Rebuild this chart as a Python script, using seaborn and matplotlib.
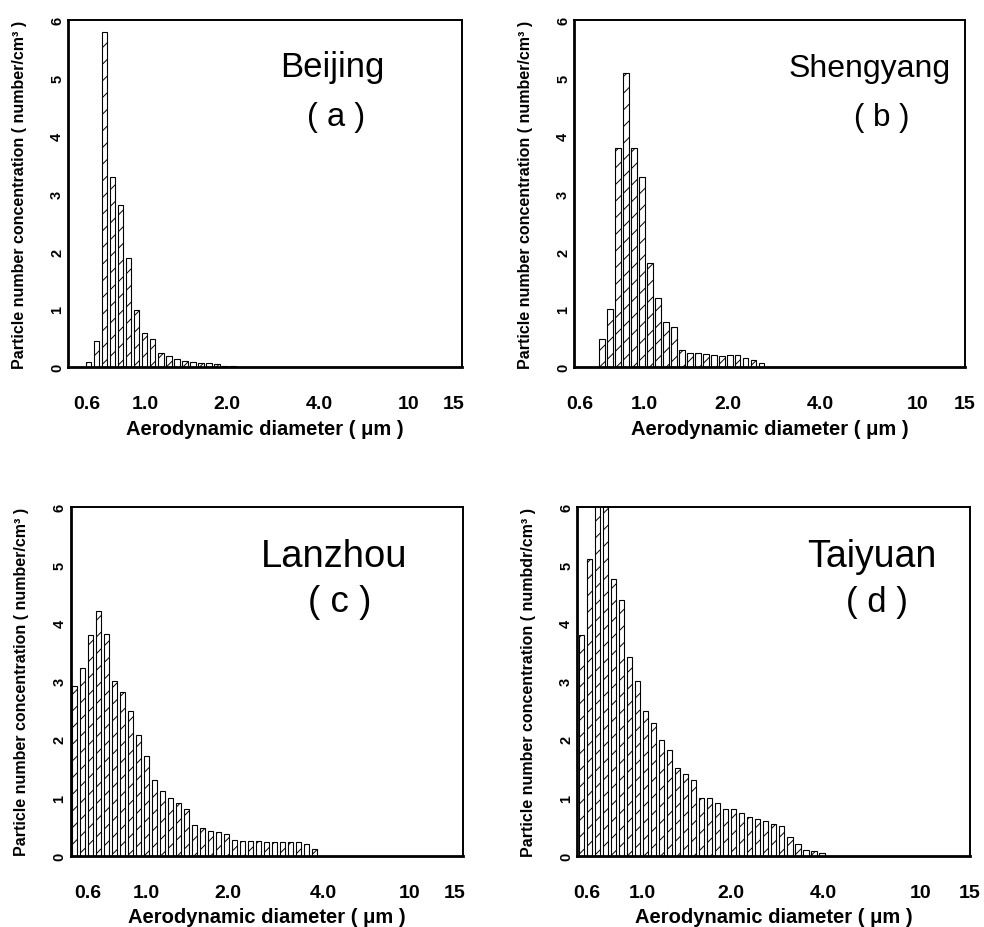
import matplotlib
matplotlib.use('Agg')
import matplotlib.pyplot as plt
import seaborn as sns
import pandas as pd

sns.set_theme(style='white')
plt.rcParams['font.family'] = ['Liberation Sans', 'DejaVu Sans']
plt.rcParams['hatch.linewidth'] = 0.7
plt.rcParams['hatch.color'] = 'black'
for key in ['text.color', 'axes.labelcolor', 'xtick.color', 'ytick.color', 'axes.edgecolor']:
    plt.rcParams[key] = 'black'

N_BINS = 49
tick_labels = ['0.6', '1.0', '2.0', '4.0', '10', '15']

cities = ['Beijing', 'Shengyang', 'Lanzhou', 'Taiyuan']
panel_tags = ['( a )', '( b )', '( c )', '( d )']
ylabels = [
    'Particle number concentration ( number/cm³ )',
    'Particle number concentration ( number/cm³ )',
    'Particle number concentration ( number/cm³ )',
    'Particle number concentration ( numbdr/cm³ )',
]
xlabel = 'Aerodynamic diameter ( μm )'

# first channel index holding data, then channel heights (number/cm3)
beijing_start = 2
beijing_vals = [0.10, 0.45, 5.80, 3.28, 2.80, 1.88, 0.99, 0.59, 0.49, 0.24,
                0.20, 0.14, 0.11, 0.10, 0.08, 0.07, 0.05, 0.03, 0.02, 0.01]
shengyang_start = 3
shengyang_vals = [0.49, 1.00, 3.79, 5.09, 3.79, 3.28, 1.81, 1.20, 0.79, 0.69,
                  0.30, 0.25, 0.25, 0.23, 0.21, 0.20, 0.21, 0.22, 0.16, 0.13, 0.07]
lanzhou_start = 0
lanzhou_vals = [2.92, 3.22, 3.79, 4.20, 3.81, 3.01, 2.81, 2.49, 2.08, 1.71,
                1.31, 1.11, 1.00, 0.91, 0.80, 0.52, 0.48, 0.43, 0.40, 0.38,
                0.27, 0.26, 0.26, 0.25, 0.23, 0.24, 0.24, 0.24, 0.23, 0.20, 0.11]
taiyuan_start = 0
taiyuan_vals = [3.79, 5.10, 6.30, 6.30, 4.76, 4.40, 3.41, 3.01, 2.48, 2.29,
                1.99, 1.81, 1.50, 1.40, 1.30, 1.00, 1.00, 0.90, 0.80, 0.80,
                0.74, 0.67, 0.64, 0.60, 0.55, 0.51, 0.32, 0.21, 0.10, 0.08, 0.04]

# tick label positions along the channel axis, per panel
ticks_a = [1.8, 9.1, 19.2, 30.7, 41.9, 47.4]
ticks_b = [0.2, 8.3, 18.75, 30.4, 42.5, 48.5]
ticks_c = [1.7, 9.0, 19.1, 31.1, 41.8, 47.5]
ticks_d = [0.7, 7.55, 18.6, 30.25, 42.3, 48.5]

starts = [beijing_start, shengyang_start, lanzhou_start, taiyuan_start]
values = [beijing_vals, shengyang_vals, lanzhou_vals, taiyuan_vals]
tick_sets = [ticks_a, ticks_b, ticks_c, ticks_d]

# layout (figure fractions)
rects = [
    [0.0694, 0.6031, 0.4001, 0.3743],
    [0.5836, 0.6031, 0.3970, 0.3743],
    [0.0718, 0.0768, 0.3984, 0.3761],
    [0.5867, 0.0768, 0.3991, 0.3761],
]
title_pos = [(0.67, 0.839), (0.757, 0.839), (0.672, 0.831), (0.75, 0.831)]
tag_pos = [(0.68, 0.722), (0.787, 0.722), (0.687, 0.728), (0.764, 0.728)]
title_size = [25, 23, 27.5, 27]
tag_size = [23.5, 22.5, 26.5, 25]

fig = plt.figure(figsize=(9.84, 9.28), dpi=100)
fig.patch.set_facecolor('white')

for k in range(4):
    ax = fig.add_axes(rects[k])
    df = pd.DataFrame({
        'channel': [starts[k] + i for i in range(len(values[k]))],
        'conc': values[k],
    })
    sns.barplot(data=df, x='channel', y='conc', order=list(range(N_BINS)),
                color='white', edgecolor='black', linewidth=0.8, width=0.7,
                hatch='//', errorbar=None, ax=ax, saturation=1)
    ax.set_xlim(-0.5, N_BINS - 0.5)
    ax.set_ylim(0, 6)
    ax.set_xticks(tick_sets[k])
    ax.set_xticklabels(tick_labels, fontweight='bold', fontsize=14)
    ax.set_yticks(range(7))
    ax.set_yticklabels([str(v) for v in range(7)], fontweight='bold', fontsize=10.5)
    ax.tick_params(axis='x', length=0, pad=20)
    ax.tick_params(axis='y', length=0, pad=3, labelrotation=90)
    for lbl in ax.get_yticklabels():
        lbl.set_va('center')
    ax.set_xlabel(xlabel, fontweight='bold', fontsize=14.5, va='top')
    ax.xaxis.set_label_coords(0.5, -0.148)
    ax.set_ylabel(ylabels[k], fontweight='bold', fontsize=11.5)
    ax.yaxis.set_label_coords(-0.105, 0.5)
    for side, sp in ax.spines.items():
        sp.set_visible(True)
        sp.set_color('black')
        sp.set_linewidth(2.0 if side in ('left', 'bottom') else 1.4)
    ax.text(title_pos[k][0], title_pos[k][1], cities[k], transform=ax.transAxes,
            ha='center', va='baseline', fontsize=title_size[k], color='black')
    ax.text(tag_pos[k][0], tag_pos[k][1], panel_tags[k], transform=ax.transAxes,
            ha='center', va='center', fontsize=tag_size[k], color='black')

fig.savefig('out.png', dpi=100, facecolor='white')
